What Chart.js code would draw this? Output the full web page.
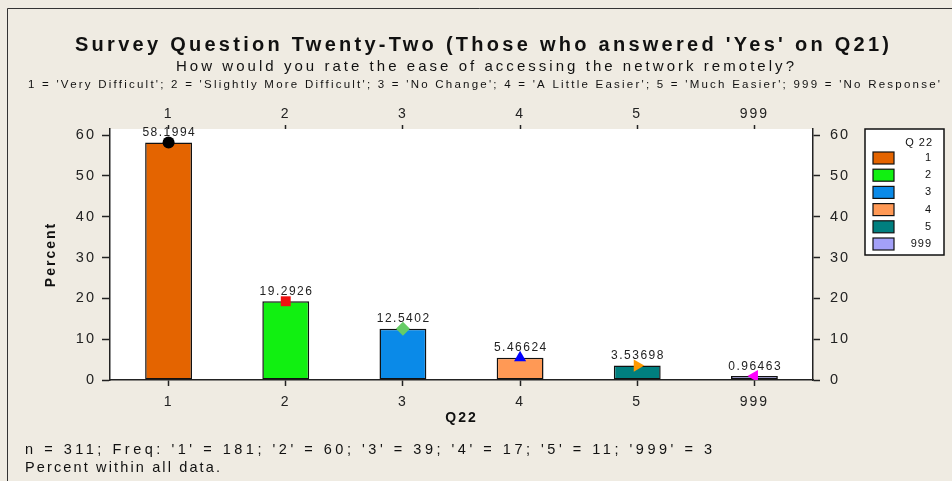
<!DOCTYPE html>
<html>
<head>
<meta charset="utf-8">
<title>Survey Question Twenty-Two</title>
<script src="https://cdn.jsdelivr.net/npm/chart.js@4.4.1/dist/chart.umd.min.js"></script>
<style>
    html, body { margin: 0; padding: 0; background: #efebe2; }
    #wrap { width: 952px; height: 481px; position: relative; }
</style>
</head>
<body>
<div id="wrap"><canvas id="Survey"></canvas></div>
<script>
const categories = ['1', '2', '3', '4', '5', '999'];
const answerLabels = ['Very Difficult', 'Slightly More Difficult', 'No Change', 'A Little Easier', 'Much Easier', 'No Response'];
const percents = [58.1994, 19.2926, 12.5402, 5.46624, 3.53698, 0.96463];
const freqs = [181, 60, 39, 17, 11, 3];
const yTicks = [0, 10, 20, 30, 40, 50, 60];
const yMax = 61.5;

const barColors = ['#e46400', '#11f011', '#0a8ae8', '#ff9955', '#007f7f', '#a3a0f8'];
const markerColors = ['#000000', '#ee1111', '#66cc66', '#0000ff', '#ff9900', '#ff00ff'];
const markerStyles = ['circle', 'rect', 'rectRot', 'triangle', 'triangle', 'triangle'];
const markerRotation = [0, 0, 0, 0, 90, -90];
const markerRadius = [6, 7, 7, 7, 7, 7];

const FONT = "'Liberation Sans', Arial, sans-serif";
Chart.defaults.font.family = FONT;
Chart.defaults.color = '#222';

const total = freqs.reduce((a, b) => a + b, 0);
const titleLine = "Survey Question Twenty-Two (Those who answered 'Yes' on Q21)";
const subtitleLine = 'How would you rate the ease of accessing the network remotely?';
const codesLine = categories.map((c, i) => c + " = '" + answerLabels[i] + "'").join('; ');
const freqLine = 'n = ' + total + '; Freq: ' + categories.map((c, i) => "'" + c + "' = " + freqs[i]).join('; ');
const noteLine = 'Percent within all data.';

// draws text stretched to a given width via letter spacing
function fitText(ctx, text, left, baseline, font, width) {
    ctx.font = font;
    ctx.letterSpacing = '0px';
    const w = ctx.measureText(text).width;
    ctx.letterSpacing = ((width - w) / (text.length - 1)) + 'px';
    ctx.textAlign = 'left';
    ctx.textBaseline = 'alphabetic';
    ctx.fillText(text, left, baseline);
}

const decor = {
    id: 'decor',
    beforeDraw(chart) {
        const {ctx, chartArea: a, width, height} = chart;
        ctx.letterSpacing = '2px';
        ctx.save();
        ctx.fillStyle = '#efebe2';
        ctx.fillRect(0, 0, width, height);
        ctx.strokeStyle = '#333';
        ctx.lineWidth = 1;
        ctx.beginPath();
        ctx.moveTo(7.5, height);
        ctx.lineTo(7.5, 8.5);
        ctx.lineTo(width, 8.5);
        ctx.stroke();
        ctx.fillStyle = '#ffffff';
        ctx.fillRect(a.left, a.top, a.right - a.left, a.bottom - a.top);
        ctx.restore();
    },
    afterDatasetsDraw(chart) {
        const ctx = chart.ctx;
        const bars = chart.getDatasetMeta(1).data;
        ctx.save();
        ctx.font = '12px ' + FONT;
        ctx.letterSpacing = '1.5px';
        ctx.fillStyle = '#222';
        ctx.textAlign = 'center';
        ctx.textBaseline = 'alphabetic';
        bars.forEach((bar, i) => {
            ctx.fillText(String(percents[i]), bar.x + 0.75, bar.y - 6.5);
        });
        ctx.restore();
    },
    afterDraw(chart) {
        const ctx = chart.ctx;
        ctx.save();
        ctx.fillStyle = '#111';
        fitText(ctx, titleLine, 75, 51, 'bold 20px ' + FONT, 814);
        fitText(ctx, subtitleLine, 176, 71, '15px ' + FONT, 618);
        fitText(ctx, codesLine, 28, 88, '11.5px ' + FONT, 912);
        fitText(ctx, freqLine, 25, 454, '14.5px ' + FONT, 687);
        fitText(ctx, noteLine, 25, 472, '14.5px ' + FONT, 195);

        // legend
        ctx.letterSpacing = '1px';
        ctx.fillStyle = '#ffffff';
        ctx.fillRect(865, 129, 79, 126);
        ctx.strokeStyle = '#111';
        ctx.lineWidth = 1.5;
        ctx.strokeRect(865, 129, 79, 126);
        ctx.fillStyle = '#111';
        ctx.font = '11px ' + FONT;
        ctx.textAlign = 'right';
        ctx.textBaseline = 'middle';
        ctx.fillText('Q 22', 933, 143);
        categories.forEach((c, i) => {
            const cy = 158 + i * 17.2;
            ctx.fillStyle = barColors[i];
            ctx.fillRect(873, cy - 6, 21, 12);
            ctx.strokeStyle = '#111';
            ctx.lineWidth = 1.2;
            ctx.strokeRect(873, cy - 6, 21, 12);
            ctx.fillStyle = '#111';
            ctx.fillText(c, 932, cy);
        });
        ctx.restore();
    }
};

const tickGrid = (len) => ({
    display: true,
    drawOnChartArea: false,
    drawTicks: true,
    tickLength: len,
    tickWidth: 1.5,
    tickColor: '#222',
    offset: false
});

new Chart(document.getElementById('Survey'), {
    type: 'bar',
    data: {
        labels: categories,
        datasets: [
            {
                type: 'line',
                label: 'Marker',
                data: percents,
                showLine: false,
                pointStyle: markerStyles,
                pointRotation: markerRotation,
                pointRadius: markerRadius,
                pointBackgroundColor: markerColors,
                pointBorderColor: markerColors,
                pointBorderWidth: 0,
                order: 0
            },
            {
                label: 'Q 22',
                data: percents,
                backgroundColor: barColors,
                borderColor: '#111',
                borderWidth: 1.5,
                borderSkipped: false,
                barPercentage: 0.4,
                categoryPercentage: 1,
                order: 1
            }
        ]
    },
    options: {
        responsive: true,
        maintainAspectRatio: false,
        devicePixelRatio: 1,
        animation: false,
        layout: { padding: 0 },
        plugins: {
            legend: { display: false },
            title: { display: false },
            tooltip: { enabled: false }
        },
        scales: {
            x: {
                position: 'bottom',
                offset: true,
                grid: tickGrid(6),
                border: { display: true, color: '#222', width: 1.5 },
                ticks: { font: { size: 14 }, padding: 8, color: '#222', maxRotation: 0 },
                title: { display: true, text: 'Q22', font: { size: 14, weight: 'bold' }, color: '#111', padding: { top: 0, bottom: 54 } },
                afterFit(s) { s.height = 101; }
            },
            x2: {
                type: 'category',
                position: 'top',
                offset: true,
                grid: tickGrid(4),
                border: { display: false },
                ticks: { font: { size: 14 }, padding: 2, color: '#222', maxRotation: 0 },
                afterFit(s) { s.height = 129; }
            },
            y: {
                position: 'left',
                min: 0,
                max: yMax,
                grid: tickGrid(8),
                border: { display: true, color: '#222', width: 1.5 },
                ticks: { font: { size: 14.5 }, padding: 6, color: '#222' },
                afterBuildTicks(s) { s.ticks = yTicks.map(v => ({ value: v })); },
                title: { display: true, text: 'Percent', font: { size: 14, weight: 'bold' }, color: '#111', padding: { top: 43, bottom: 0 } },
                afterFit(s) { s.width = 110; }
            },
            y2: {
                type: 'linear',
                position: 'right',
                min: 0,
                max: yMax,
                grid: tickGrid(7),
                border: { display: true, color: '#222', width: 1.5 },
                ticks: { font: { size: 14.5 }, padding: 10, color: '#222' },
                afterBuildTicks(s) { s.ticks = yTicks.map(v => ({ value: v })); },
                afterFit(s) { s.width = 139; }
            }
        }
    },
    plugins: [decor]
});
</script>
</body>
</html>
